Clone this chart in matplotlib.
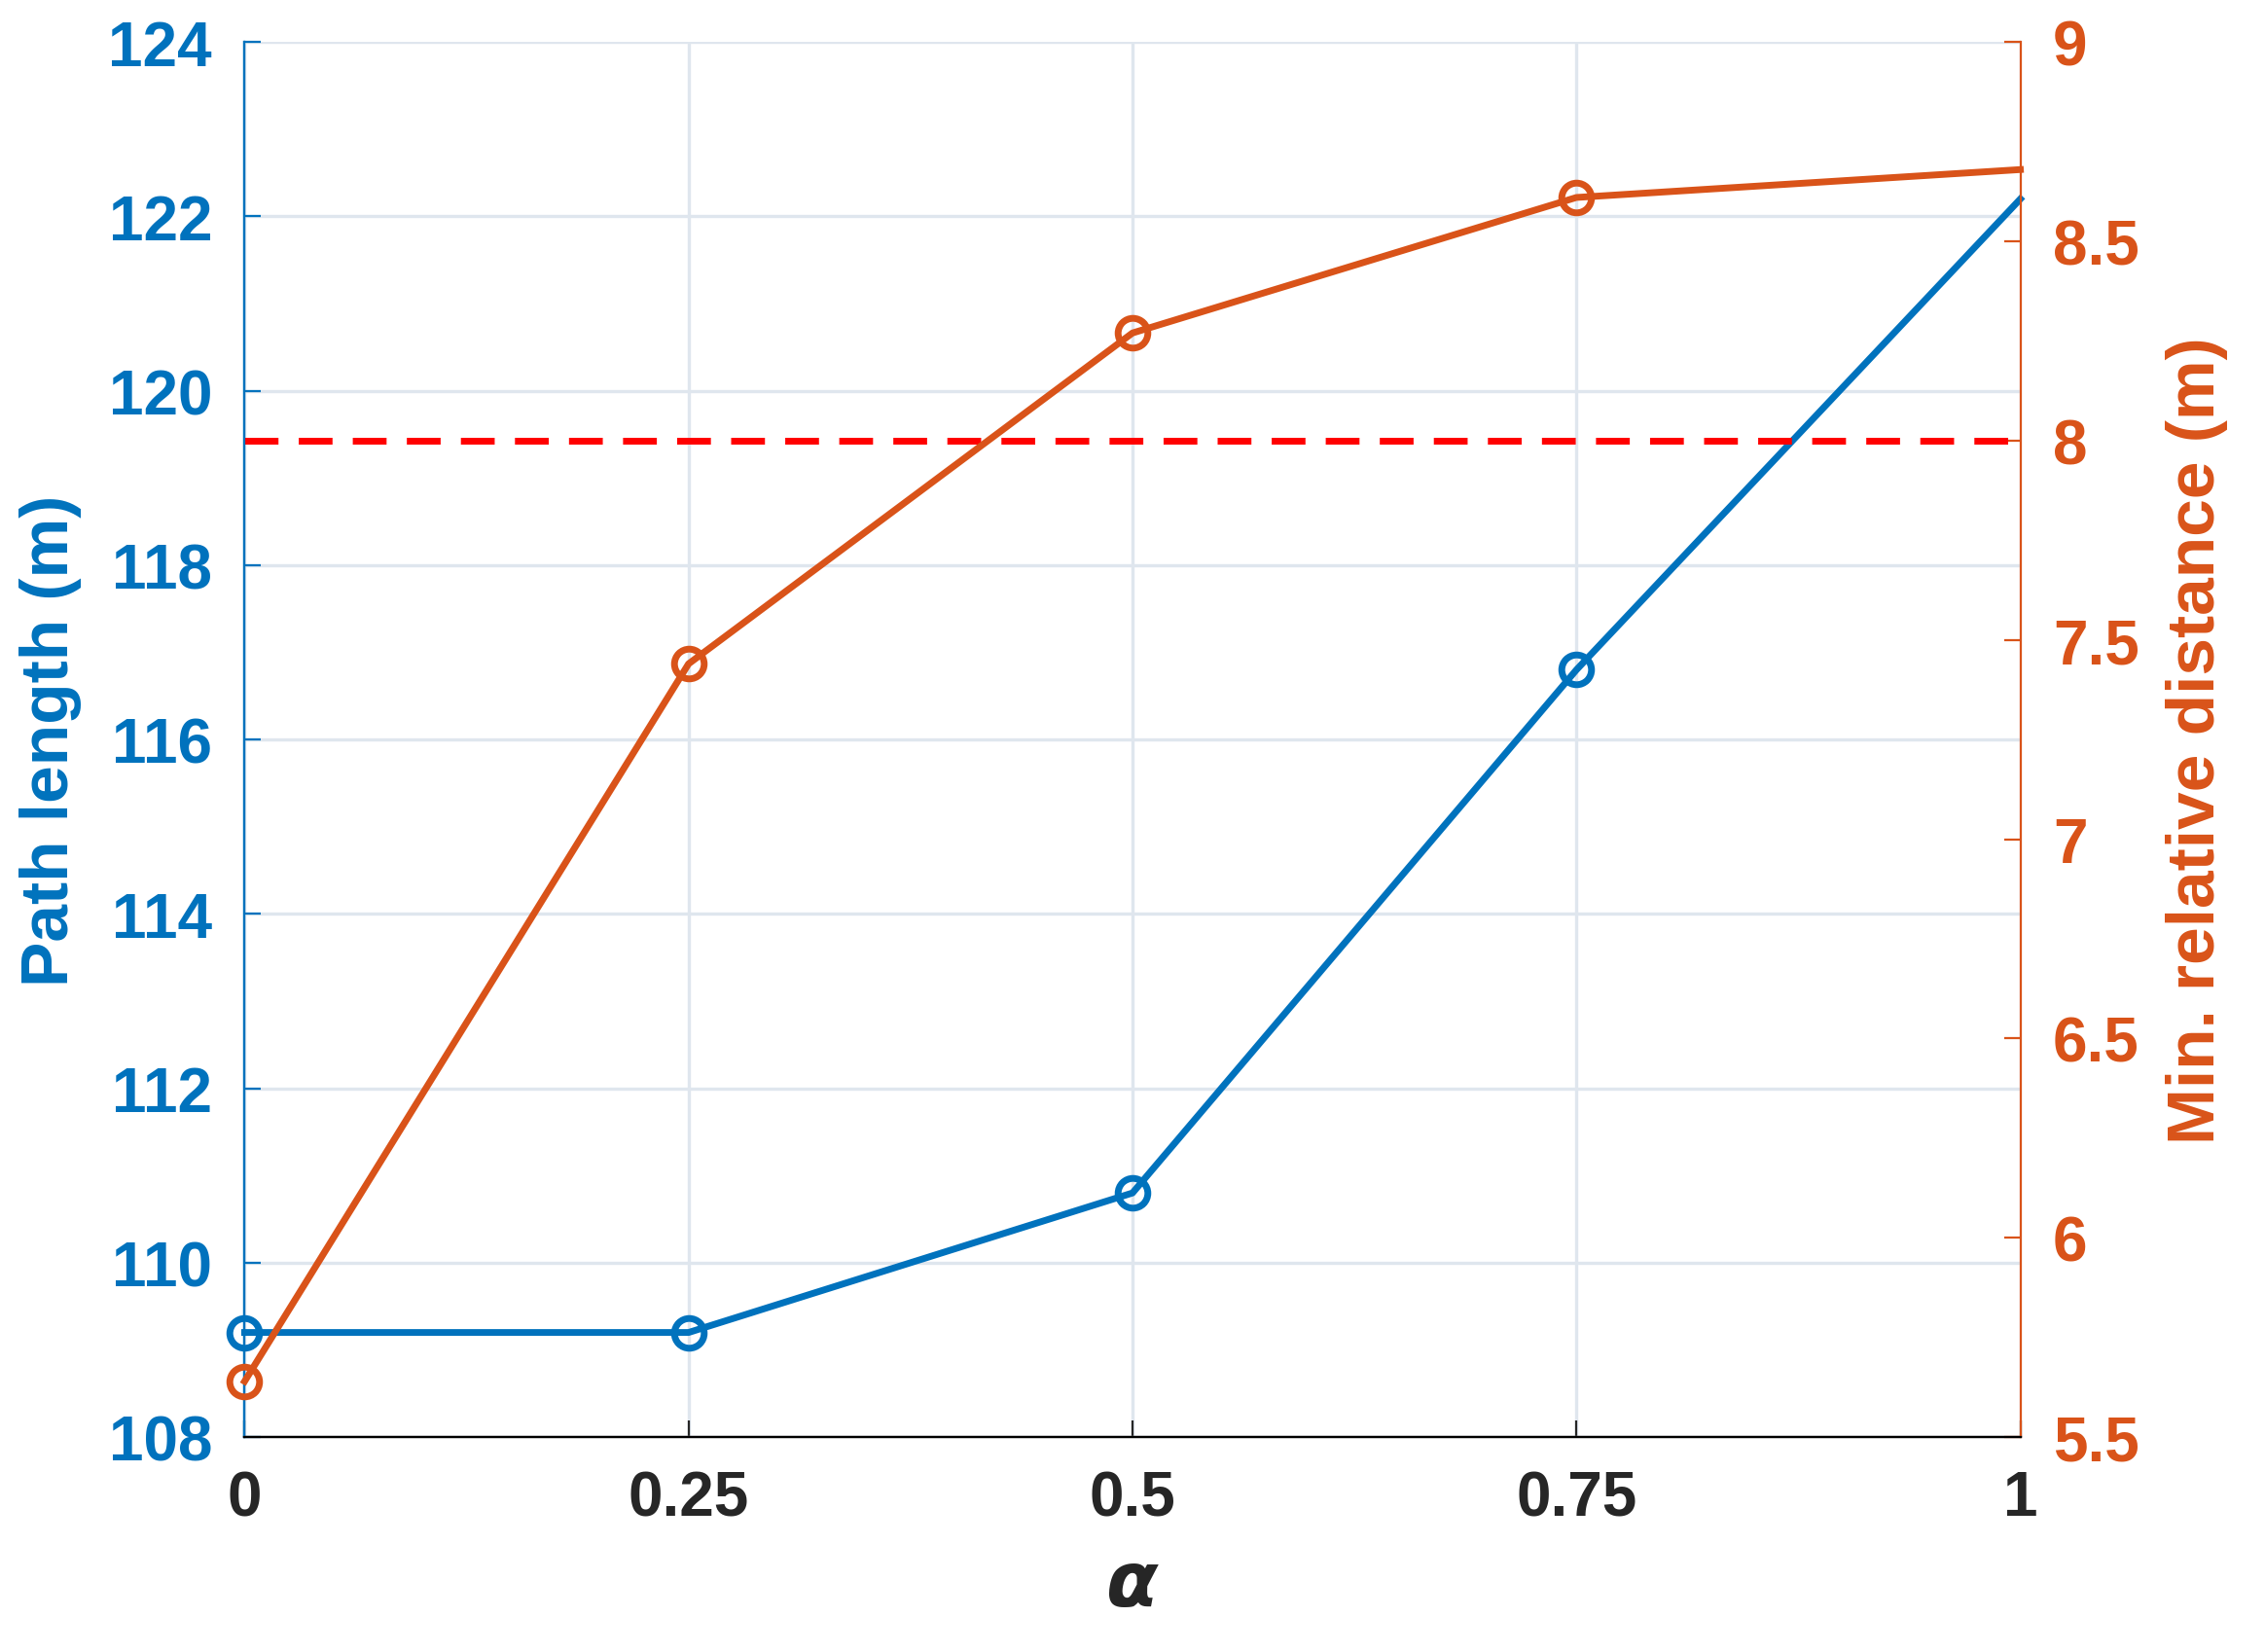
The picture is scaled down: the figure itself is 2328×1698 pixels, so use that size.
import matplotlib.pyplot as plt

plt.rcParams['font.family'] = ['Liberation Sans', 'DejaVu Sans']
plt.rcParams['font.weight'] = 'bold'

alpha = [0, 0.25, 0.5, 0.75, 1]
path_len = [109.2, 109.2, 110.8, 116.8, 122.2]
min_dist = [5.64, 7.44, 8.27, 8.61, 8.68]
threshold = 8.0

blue = '#0072BD'
orange = '#D95319'

fig = plt.figure(figsize=(11.64, 8.495), dpi=200)
ax = fig.add_axes([0.108, 0.13, 0.784, 0.844])
ax2 = ax.twinx()

ax.plot(alpha, path_len, color=blue, lw=2.5, marker='o', ms=11, mfc='none',
        mew=2.5, markevery=[0, 1, 2, 3], clip_on=False, zorder=3)
ax2.plot(alpha, min_dist, color=orange, lw=2.5, marker='o', ms=11, mfc='none',
         mew=2.5, markevery=[0, 1, 2, 3], clip_on=False, zorder=3)
ax2.axhline(threshold, color='red', ls=(0, (5, 3)), lw=2.5)

ax.set_xlim(0, 1)
ax.set_ylim(108, 124)
ax2.set_ylim(5.5, 9)
ax.set_xticks(alpha)
ax.set_xticklabels(['0', '0.25', '0.5', '0.75', '1'])
ax.set_yticks(range(108, 125, 2))
ax2.set_yticks([5.5, 6, 6.5, 7, 7.5, 8, 8.5, 9])
ax2.set_yticklabels(['5.5', '6', '6.5', '7', '7.5', '8', '8.5', '9'])

ax.grid(True, color='#dfe6ee', lw=1.2)
ax.set_axisbelow(True)
ax.tick_params(axis='both', direction='in', labelsize=23, length=6, pad=12)
ax.tick_params(axis='y', colors=blue)
ax.tick_params(axis='x', colors='#262626')
ax2.tick_params(axis='y', direction='in', labelsize=23, colors=orange, length=6, pad=12)
ax.spines['left'].set_color(blue)
ax2.spines['left'].set_color(blue)
ax2.spines['right'].set_color(orange)
ax.spines['right'].set_visible(False)
ax.spines['top'].set_visible(False)
ax2.spines['top'].set_visible(False)

ax.set_ylabel('Path length (m)', color=blue, fontsize=25, fontweight='bold', labelpad=10)
ax2.set_ylabel('Min. relative distance (m)', color=orange, fontsize=25, fontweight='bold', labelpad=10)
ax.set_xlabel(r'$\alpha$', fontsize=28, color='#262626', labelpad=8)

fig.savefig('out.png', dpi=200)
